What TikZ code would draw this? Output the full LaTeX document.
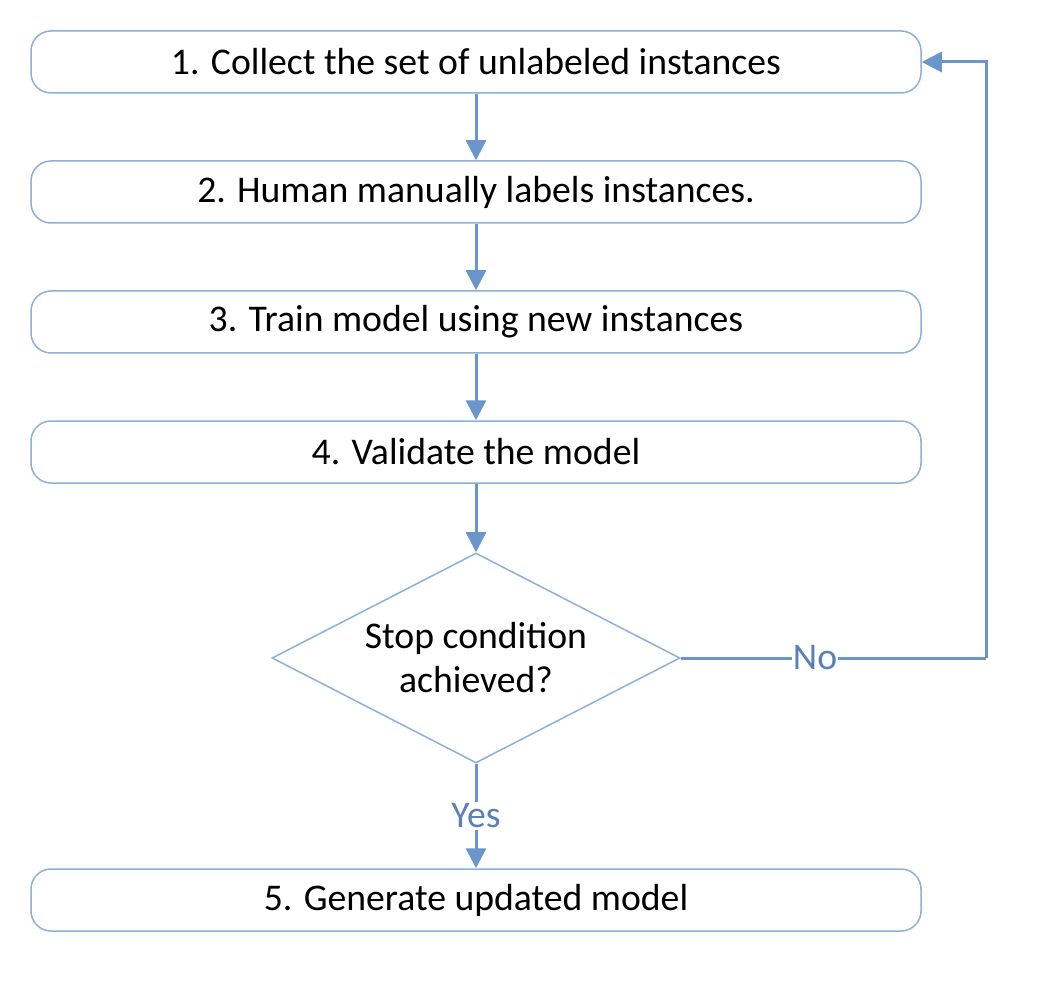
\documentclass[tikz,border=0pt]{standalone}
\usepackage{fontspec}
\setmainfont{Carlito}
\usetikzlibrary{arrows.meta,shapes.geometric}
\definecolor{boxline}{HTML}{8DB0D9}
\definecolor{arrowc}{HTML}{6A96CB}
\definecolor{labc}{HTML}{5A80B8}
\tikzset{
  stepbox/.style={draw=boxline, line width=1.5pt, rounded corners=20pt, minimum width=890pt, minimum height=62pt, inner sep=0pt, font=\fontsize{37.7}{44}\selectfont, fill=white},
  decbox/.style={draw=boxline, line width=1.5pt, diamond, minimum width=408pt, minimum height=210pt, inner sep=0pt, fill=white},
  dectext/.style={align=center, font=\fontsize{37.7}{44}\selectfont, inner sep=0pt},
  conn/.style={draw=arrowc, line width=3pt, -{Triangle[width=20pt,length=20pt]}},
  plain/.style={draw=arrowc, line width=3pt},
  lab/.style={text=labc, font=\fontsize{37.7}{44}\selectfont, fill=white, inner sep=2pt}
}
\begin{document}
\begin{tikzpicture}[x=1pt,y=-1pt]
\useasboundingbox (0,0) rectangle (1050,984);
\node[stepbox] (s1) at (476,62) {1. Collect the set of unlabeled instances};
\node[stepbox] (s2) at (476,192) {2. Human manually labels instances.};
\node[stepbox] (s3) at (476,322) {3. Train model using new instances};
\node[stepbox] (s4) at (476,452) {4. Validate the model};
\node[decbox] (d) at (476,658) {};
\node[dectext] (dt) at (476,658) {Stop condition\\achieved?};
\node[stepbox] (s5) at (476,900) {5. Generate updated model};
\coordinate (c1) at (986,658);
\coordinate (c2) at (986,62);
\draw[conn] (s1) -- (s2);
\draw[conn] (s2) -- (s3);
\draw[conn] (s3) -- (s4);
\draw[conn] (s4) -- (d);
\draw[conn] (d.south) -- node[lab, pos=0.5] (yes) {Yes} (s5.north);
\draw[plain] (d.east) -- node[lab, pos=0.44, inner sep=1pt] (no) {No} (c1);
\draw[conn] (c1) -- (c2) -- (s1.east);
\end{tikzpicture}
\end{document}
